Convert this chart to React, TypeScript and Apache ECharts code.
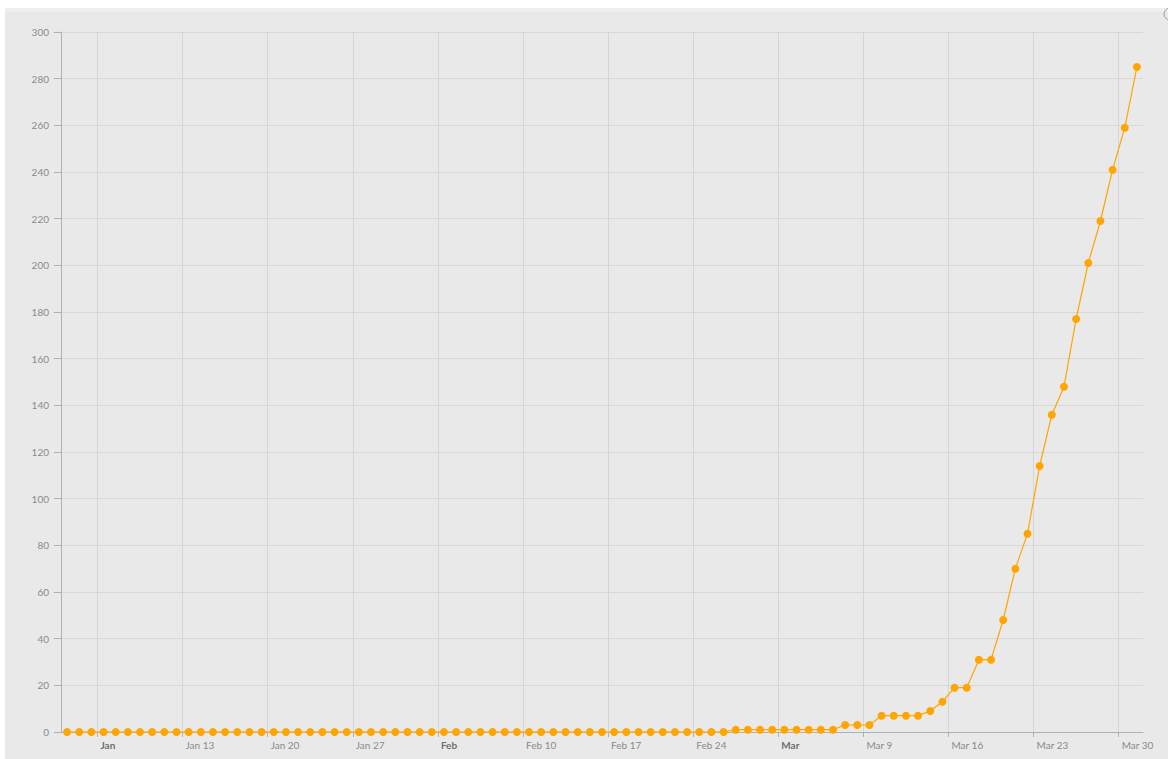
import React, { useEffect, useRef } from "react";
import * as echarts from "echarts";

// Daily values, Jan 3 .. Mar 31 (2020)
const dailyValues: number[] = [
  // Jan 3 - Jan 31
  0, 0, 0, 0, 0, 0, 0, 0, 0, 0, 0, 0, 0, 0, 0, 0, 0, 0, 0, 0, 0, 0, 0, 0, 0, 0, 0, 0, 0,
  // Feb 1 - Feb 26
  0, 0, 0, 0, 0, 0, 0, 0, 0, 0, 0, 0, 0, 0, 0, 0, 0, 0, 0, 0, 0, 0, 0, 0, 0, 0,
  // Feb 27 - Feb 29
  1, 1, 1,
  // Mar 1 - Mar 31
  1, 1, 1, 1, 1, 1, 3, 3, 3, 7, 7, 7, 7, 9, 13, 19, 19, 31, 31, 48, 70, 85, 114, 136, 148, 177, 201, 219, 241, 259, 285,
];

// Day offsets from Jan 3 (00:00) of the weekly ticks (Mondays)
const tickDays: number[] = [3, 10, 17, 24, 31, 38, 45, 52, 59, 66, 73, 80, 87];
const tickLabels: string[] = ["Jan", "Jan 13", "Jan 20", "Jan 27", "Feb", "Feb 10", "Feb 17", "Feb 24", "Mar", "Mar 9", "Mar 16", "Mar 23", "Mar 30"];
const monthLabels: string[] = ["Jan", "Feb", "Mar"];

const yTicks = { min: 0, max: 300, interval: 20 };
const xRange = { min: 0, max: 89 };

export default function App() {
  const ref = useRef<HTMLDivElement>(null);
  useEffect(() => {
    if (!ref.current) return;
    const chart = echarts.init(ref.current, undefined, { renderer: "svg" });
    const seriesData = dailyValues.map((v, i) => [i + 0.5, v]);
    const font = "Lato, 'Open Sans', sans-serif";
    chart.setOption({
      animation: false,
      backgroundColor: "#ffffff",
      graphic: [
        { type: "rect", shape: { x: 5, y: 8, width: 1163, height: 751 }, style: { fill: "#e9e9e9" }, z: -10 },
        { type: "rect", shape: { x: 5, y: 8, width: 1163, height: 4 }, style: { fill: "#efefef" }, z: -9 },
        { type: "arc", shape: { cx: 1170, cy: 14, r: 6, startAngle: Math.PI * 0.5, endAngle: Math.PI * 1.5 }, style: { stroke: "#9a9a9a", lineWidth: 1, fill: "none" }, z: 5 },
      ],
      grid: { left: 61, right: 25, top: 32, bottom: 27, containLabel: false },
      xAxis: {
        type: "value",
        min: xRange.min,
        max: xRange.max,
        axisLine: { show: true, lineStyle: { color: "#b0b0b0", width: 1 } },
        axisTick: { show: true, length: 5, customValues: tickDays, lineStyle: { color: "#b0b0b0" } },
        splitLine: { show: true, lineStyle: { color: "#d5d5d5", width: 1 } },
        axisLabel: {
          customValues: tickDays,
          margin: 8,
          align: "left",
          padding: [0, 0, 0, 3],
          color: "#8a8a8a",
          fontSize: 10,
          fontFamily: font,
          formatter: (val: number) => {
            const idx = tickDays.indexOf(Math.round(val));
            const lbl = idx >= 0 ? tickLabels[idx] : "";
            return monthLabels.indexOf(lbl) >= 0 ? "{b|" + lbl + "}" : lbl;
          },
          rich: {
            b: { fontWeight: "bold", color: "#6f6f6f", fontSize: 10, fontFamily: font },
          },
        },
      },
      yAxis: {
        type: "value",
        min: yTicks.min,
        max: yTicks.max,
        interval: yTicks.interval,
        axisLine: { show: true, lineStyle: { color: "#b0b0b0", width: 1 } },
        axisTick: { show: true, length: 7, lineStyle: { color: "#b0b0b0" } },
        splitLine: { show: true, lineStyle: { color: "#d8d8d8", width: 1 } },
        axisLabel: { margin: 12, color: "#8a8a8a", fontSize: 10, fontFamily: font },
      },
      series: [
        {
          type: "line",
          data: seriesData,
          symbol: "circle",
          symbolSize: 8,
          showSymbol: true,
          lineStyle: { color: "#ffa500", width: 1.2 },
          itemStyle: { color: "#ffa500" },
        },
      ],
    });
    return () => chart.dispose();
  }, []);
  return <div ref={ref} style={{ position: "fixed", left: 0, top: 0, width: 1168, height: 759 }} />;
}
